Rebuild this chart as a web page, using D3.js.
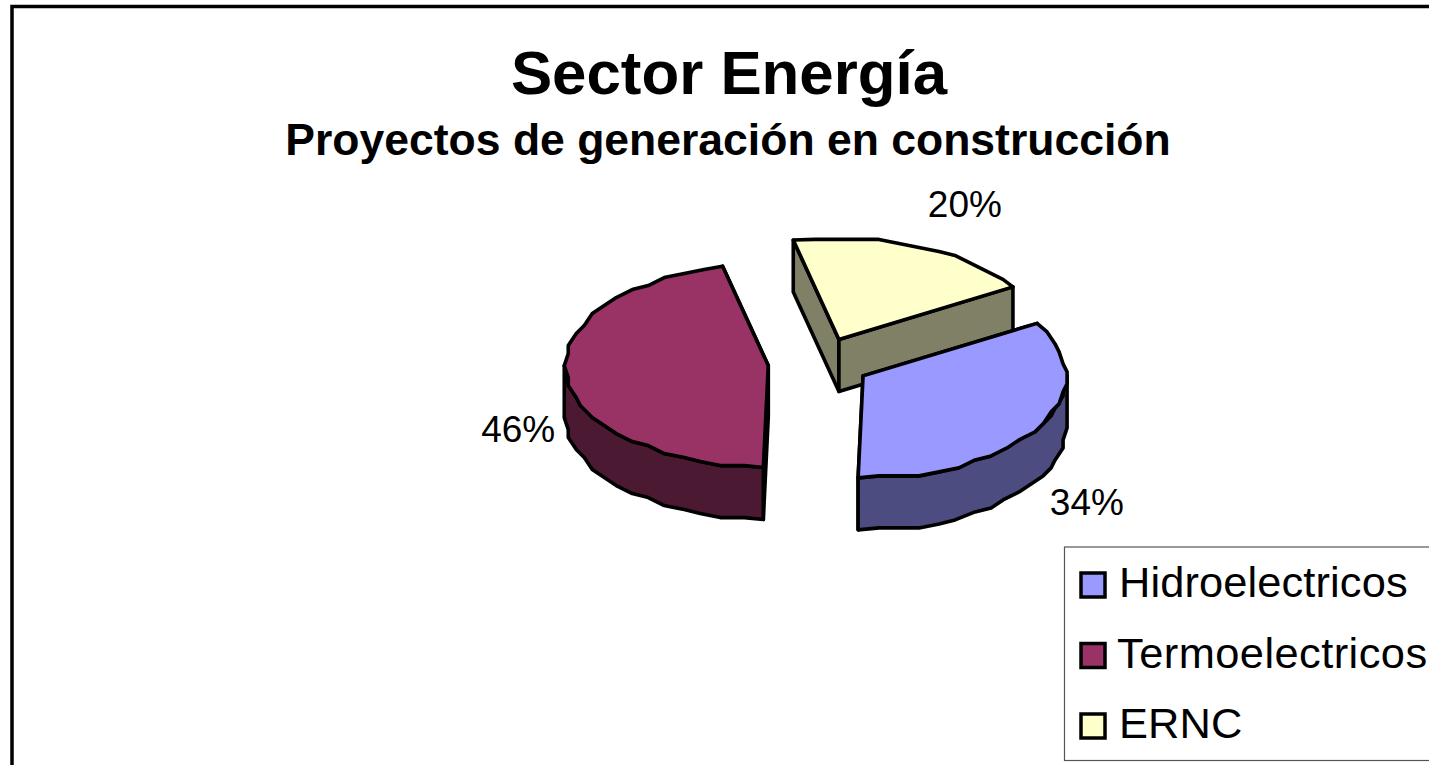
<!DOCTYPE html>
<html>
<head>
<meta charset="utf-8">
<script src="https://cdn.jsdelivr.net/npm/d3@7"></script>
<style>
  html, body { margin: 0; padding: 0; background: #fff; overflow: hidden; }
  svg { display: block; }
  text { font-family: "Liberation Sans", Arial, sans-serif; fill: #000; }
</style>
</head>
<body>
<svg id="chart" width="1429" height="765"></svg>
<script>
const categories = ['Hidroelectricos', 'Termoelectricos', 'ERNC'];
const shares = [34, 46, 20];
const topColors = ['#9999ff', '#993366', '#ffffcc'];
const sideColors = ['#4c4c80', '#4c1933', '#808066'];

const width = 1429;
const height = 765;
const rx = 203;
const ry = 102;
const depth = 52;
const explode = 51;
const centerX = 819;
const centerY = 363;
const toRad = Math.PI / 180;

const svg = d3.select('#chart');

// chart frame runs off the right and bottom of the page
svg.append('rect')
  .attr('x', 12).attr('y', 6.5)
  .attr('width', width).attr('height', height)
  .attr('fill', '#fff').attr('stroke', '#000').attr('stroke-width', 3.5);

svg.append('text')
  .text('Sector Energía')
  .attr('x', 729).attr('y', 94)
  .attr('text-anchor', 'middle')
  .attr('font-size', 61.8).attr('font-weight', 'bold');

svg.append('text')
  .text('Proyectos de generación en construcción')
  .attr('x', 728).attr('y', 155)
  .attr('text-anchor', 'middle')
  .attr('font-size', 44.5).attr('font-weight', 'bold');

const pie = d3.pie()
  .sort(null)
  .startAngle(59 * toRad)
  .endAngle((59 + 360) * toRad);

const arcs = pie(shares).map((d, i) => ({ ...d, i, mid: (d.startAngle + d.endAngle) / 2 }));

const xs = d3.scaleLinear().domain([-1, 1]).range([-rx, rx]);
const ys = d3.scaleLinear().domain([-1, 1]).range([ry, -ry]);

const apex = (d) => [
  centerX + explode / rx * xs(Math.sin(d.mid)),
  centerY + explode / rx * ys(Math.cos(d.mid)),
];

// the source is a low resolution metafile, so the rim is snapped to a coarse grid
const snap = (v, g) => Math.round(v / g) * g;

const rim = (d, from, to, drop) => {
  const [ax, ay] = apex(d);
  const steps = Math.max(2, Math.ceil((to - from) / (6 * toRad)));
  return d3.range(steps + 1).map((k) => {
    const a = from + (to - from) * k / steps;
    const px = xs(Math.sin(a));
    const py = ys(Math.cos(a));
    const exact = a === d.startAngle || a === d.endAngle;
    return [
      ax + (exact ? px : snap(px, 4)),
      ay + (exact ? py : snap(py, 4)) + drop,
    ];
  });
};

const line = d3.line();
const closed = (pts) => line(pts) + 'Z';

const drawOrder = [2, 1, 0];

const pieG = svg.append('g')
  .attr('stroke', '#000')
  .attr('stroke-width', 3.6)
  .attr('stroke-linejoin', 'round');

drawOrder.forEach((idx) => {
  const d = arcs[idx];
  const [ax, ay] = apex(d);
  const slice = pieG.append('g');

  // flat cut walls
  [d.startAngle, d.endAngle].forEach((a) => {
    const p = rim(d, a, a, 0)[0];
    slice.append('path')
      .attr('d', closed([[ax, ay], p, [p[0], p[1] + depth], [ax, ay + depth]]))
      .attr('fill', sideColors[idx]);
  });

  // outer wall, front half only
  const candidates = [0, 360].map((turn) => [
    Math.max(d.startAngle, (90 + turn) * toRad),
    Math.min(d.endAngle, (270 + turn) * toRad),
  ]).filter(([a, b]) => b > a);
  candidates.forEach(([a, b]) => {
    const upper = rim(d, a, b, 0);
    const lower = rim(d, a, b, depth).reverse();
    slice.append('path')
      .attr('d', closed(upper.concat(lower)))
      .attr('fill', sideColors[idx]);
  });

  // top face
  slice.append('path')
    .attr('d', closed([[ax, ay]].concat(rim(d, d.startAngle, d.endAngle, 0))))
    .attr('fill', topColors[idx]);
});

// data labels, placed like the source: outside the rim, nudged by hand
const labelFactor = [1.27, 1.243, 1.5];
const labelNudge = [[1, 74], [1, 64], [7, 18]];

svg.append('g')
  .selectAll('text')
  .data(arcs)
  .enter()
  .append('text')
  .text((d) => `${d.data}%`)
  .attr('text-anchor', 'middle')
  .attr('font-size', 37)
  .attr('x', (d) => apex(d)[0] + labelFactor[d.i] * xs(Math.sin(d.mid)) + labelNudge[d.i][0])
  .attr('y', (d) => apex(d)[1] + labelFactor[d.i] * ys(Math.cos(d.mid)) + labelNudge[d.i][1]);

// legend
const legend = svg.append('g');

legend.append('rect')
  .attr('x', 1064.5).attr('y', 547)
  .attr('width', 500).attr('height', 213.5)
  .attr('fill', '#fff').attr('stroke', '#555').attr('stroke-width', 1.2);

const legendY = d3.scalePoint().domain(categories).range([597, 738]);

legend.selectAll('rect.swatch')
  .data(categories)
  .enter()
  .append('rect')
  .attr('class', 'swatch')
  .attr('x', 1081).attr('y', (d) => legendY(d) - 24)
  .attr('width', 24).attr('height', 24)
  .attr('fill', (d, i) => topColors[i])
  .attr('stroke', '#000').attr('stroke-width', 3.5);

legend.selectAll('text')
  .data(categories)
  .enter()
  .append('text')
  .text((d) => d)
  .attr('x', (d, i) => (i === 1 ? 1117 : 1119))
  .attr('y', (d) => legendY(d))
  .attr('letter-spacing', (d, i) => (i === 1 ? 0.45 : 0.12))
  .attr('font-size', 43.4);
</script>
</body>
</html>
